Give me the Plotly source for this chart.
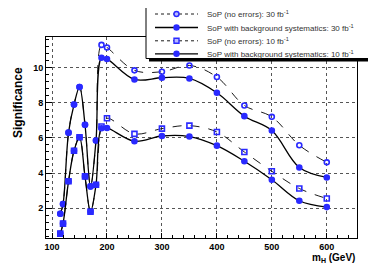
import plotly.graph_objects as go

mass = [115, 120, 130, 140, 150, 160, 170, 180, 190, 200, 250, 300, 350, 400, 450, 500, 550, 600]
sig30_noerr = [1.68, 2.23, 6.30, 7.90, 8.90, 6.75, 3.24, 5.85, 11.30, 11.15, 9.85, 9.77, 10.13, 9.47, 7.85, 7.20, 5.58, 4.61]
sig30_syst = [1.68, 2.23, 6.30, 7.90, 8.90, 6.75, 3.24, 5.85, 10.57, 10.50, 9.33, 9.43, 9.39, 8.57, 7.24, 6.42, 4.32, 3.75]
sig10_noerr = [0.55, 1.12, 3.53, 5.27, 6.04, 3.81, 1.80, 3.33, 6.65, 7.12, 6.23, 6.53, 6.70, 6.34, 5.20, 4.10, 3.12, 2.55]
sig10_syst = [0.55, 1.12, 3.53, 5.27, 6.04, 3.81, 1.80, 3.33, 6.55, 6.57, 5.81, 6.11, 6.08, 5.56, 4.67, 3.62, 2.42, 2.06]

labels = [
    "SoP (no errors): 30 fb<sup>-1</sup>",
    "SoP with background systematics: 30 fb<sup>-1</sup>",
    "SoP (no errors): 10 fb<sup>-1</sup>",
    "SoP with background systematics: 10 fb<sup>-1</sup>",
]
series = [sig30_noerr, sig30_syst, sig10_noerr, sig10_syst]
dashes = ["dash", "solid", "dash", "solid"]
widths = [0.9, 1.3, 0.9, 1.3]
symbols = ["circle-open", "circle", "square-open", "circle"]

BLUE = "#2a2aff"
W, H = 376, 264
L, R, T, B = 38, 27, 29, 34
PW, PH = W - L - R, H - T - B

def px(x):
    return (x - L) / PW

def py(y):
    return (H - B - y) / PH

fig = go.Figure()
for ys, lab, d, w, s in zip(series, labels, dashes, widths, symbols):
    fig.add_trace(go.Scatter(
        x=mass, y=ys, name=lab, mode="lines+markers",
        line=dict(color="black", width=w, dash=d, shape="spline", smoothing=1.0),
        marker=dict(color=BLUE, size=5, symbol=s, line=dict(color=BLUE, width=1.6)),
        showlegend=False,
    ))

shapes = []
shapes.append(dict(type="rect", xref="paper", yref="paper", x0=px(141), x1=px(364), y0=py(53.5), y1=py(-3),
                   fillcolor="black", line=dict(width=0), layer="above"))
shapes.append(dict(type="rect", xref="paper", yref="paper", x0=px(138), x1=px(361), y0=py(50.5), y1=py(-3),
                   fillcolor="white", line=dict(color="black", width=1), layer="above"))
rows = [6, 19.5, 32.8, 45.8]
annotations = []
for r, lab, d, w, s in zip(rows, labels, dashes, widths, symbols):
    shapes.append(dict(type="line", xref="paper", yref="paper", x0=px(147), x1=px(190), y0=py(r), y1=py(r),
                       line=dict(color="black", width=w, dash="dot" if d == "dash" else "solid"), layer="above"))
    kind = "circle" if "circle" in s else "rect"
    fill = "#b8b8ff" if "open" in s else BLUE
    shapes.append(dict(type=kind, xref="paper", yref="paper", x0=px(166), x1=px(171), y0=py(r + 2.5), y1=py(r - 2.5),
                       fillcolor=fill, line=dict(color=BLUE, width=1.4), layer="above"))
    annotations.append(dict(text=lab, xref="paper", yref="paper", x=px(197), y=py(r), xanchor="left", yanchor="middle",
                            showarrow=False, font=dict(family="Liberation Sans", size=8, color="#333333")))

annotations.append(dict(text="Significance", xref="paper", yref="paper", x=px(10), y=py(95), textangle=-90,
                        xanchor="center", yanchor="middle", showarrow=False,
                        font=dict(family="Liberation Sans", size=12, color="black", weight="bold")))
annotations.append(dict(text="m<sub>H</sub> (GeV)", xref="paper", yref="paper", x=px(349), y=py(250),
                        xanchor="right", yanchor="middle", showarrow=False,
                        font=dict(family="Liberation Sans", size=10, color="black", weight="bold")))

fig.update_layout(
    width=W, height=H, margin=dict(l=L, r=R, t=T, b=B),
    paper_bgcolor="white", plot_bgcolor="white",
    shapes=shapes, annotations=annotations,
    xaxis=dict(range=[89, 655], tickvals=[100, 200, 300, 400, 500, 600], ticks="inside", ticklen=5,
               tickcolor="black", showline=True, linecolor="black", linewidth=1, mirror=True,
               showgrid=True, gridcolor="#555555", griddash="dot", gridwidth=1, zeroline=False,
               tickfont=dict(family="Liberation Sans", size=9, color="black", weight="bold"),
               minor=dict(dtick=20, ticks="inside", ticklen=3, tickcolor="black", showgrid=False)),
    yaxis=dict(range=[0.3, 11.75], tickvals=[2, 4, 6, 8, 10], ticks="inside", ticklen=6,
               tickcolor="black", showline=True, linecolor="black", linewidth=1, mirror=True,
               showgrid=True, gridcolor="#555555", griddash="dot", gridwidth=1, zeroline=False,
               tickfont=dict(family="Liberation Sans", size=9, color="black", weight="bold"),
               minor=dict(tick0=0, dtick=0.4, ticks="inside", ticklen=3, tickcolor="black", showgrid=False)),
)

fig.write_html("out.html")
